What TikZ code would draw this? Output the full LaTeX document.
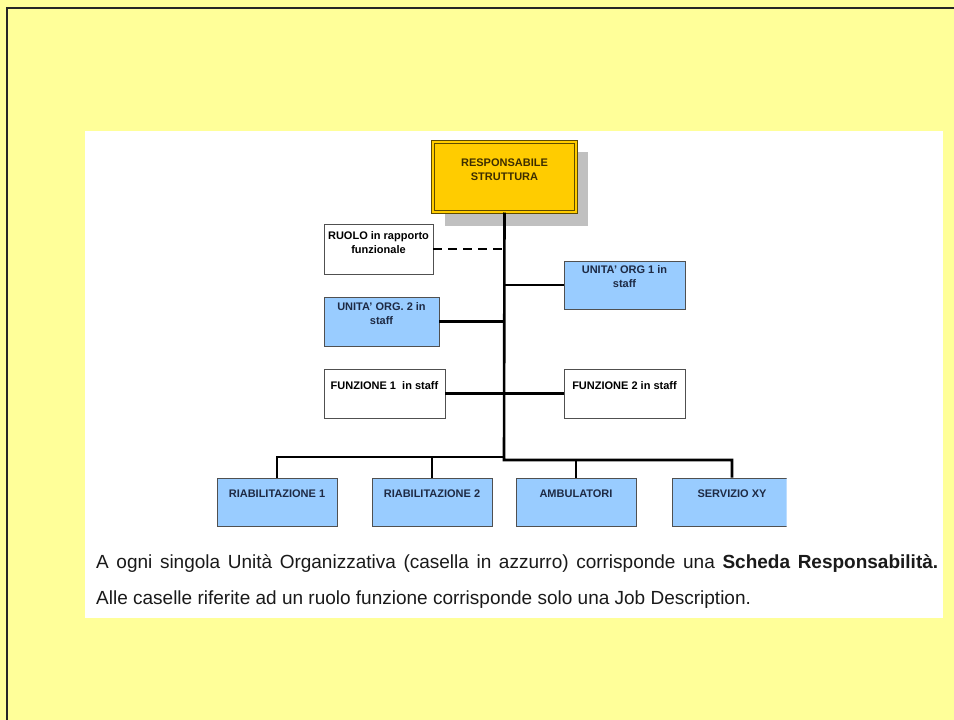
\documentclass[tikz,border=0pt]{standalone}
\usepackage{fontspec}
\setmainfont{Liberation Sans}
\usetikzlibrary{calc}
\definecolor{bgyellow}{HTML}{FFFF99}
\definecolor{ubblue}{HTML}{99CCFF}
\definecolor{gold}{HTML}{FFCC00}
\definecolor{goldline}{HTML}{5E4B00}
\definecolor{shadowgray}{HTML}{C0C0C0}
\definecolor{boxline}{HTML}{505050}
\definecolor{navytext}{HTML}{1E2A44}
\definecolor{titletext}{HTML}{3D2E00}
\definecolor{bodytext}{HTML}{1A1A1A}
\begin{document}
\begin{tikzpicture}[x=1pt,y=-1pt,
  box/.style={draw=boxline, line width=0.9pt, inner sep=0pt},
  bluebox/.style={box, fill=ubblue},
  whitebox/.style={box, fill=white},
  titlebox/.style={draw=goldline, line width=1pt, double=gold, double distance=2.4pt, fill=gold, inner sep=0pt},
  lbl/.style={font=\bfseries\fontsize{11}{14}\selectfont, align=center, inner sep=0pt},
  bluelbl/.style={lbl, text=navytext},
  whitelbl/.style={lbl, text=black},
  conn/.style={line width=2.6pt, black},
  bodyfont/.style={font=\fontsize{19}{22}\selectfont, text=bodytext, inner sep=0pt, anchor=base west}
]
\useasboundingbox (0,0) rectangle (954,720);
% background and frame
\fill[bgyellow] (0,0) rectangle (954,720);
\draw[line width=2.8pt, black!85] (7,721) -- (7,8) -- (955,8);
\fill[white] (85,131) rectangle (943,618);

% title box with shadow
\fill[shadowgray] (445,152) rectangle (588,226);
\node[titlebox, minimum width=143, minimum height=70] (resp) at (504.5,177) {};
\node[lbl, text=titletext] (resptxt) at (504.5,169.5) {RESPONSABILE\\STRUTTURA};

% staff boxes
\node[whitebox, minimum width=109, minimum height=50] (ruolo) at (378.5,249) {};
\node[whitelbl] (ruolotxt) at (378.5,242.5) {RUOLO in rapporto\\funzionale};

\node[bluebox, minimum width=121, minimum height=48] (uo1) at (624.5,285) {};
\node[bluelbl] (uo1txt) at (624.5,277) {UNITA' ORG 1 in\\staff};

\node[bluebox, minimum width=115, minimum height=49] (uo2) at (381.5,321.5) {};
\node[bluelbl] (uo2txt) at (381.5,314) {UNITA' ORG. 2 in\\staff};

\node[whitebox, minimum width=121, minimum height=49] (f1) at (384.5,393.5) {};
\node[whitelbl] (f1txt) at (384.5,386) {FUNZIONE 1\ \ in staff};

\node[whitebox, minimum width=121, minimum height=49] (f2) at (624.5,393.5) {};
\node[whitelbl] (f2txt) at (624.5,386) {FUNZIONE 2 in staff};

% bottom units
\node[bluebox, minimum width=120, minimum height=48] (r1) at (277,502) {};
\node[bluelbl] (r1txt) at (277,494) {RIABILITAZIONE 1};
\node[bluebox, minimum width=120, minimum height=48] (r2) at (432,502) {};
\node[bluelbl] (r2txt) at (432,494) {RIABILITAZIONE 2};
\node[bluebox, minimum width=120, minimum height=48] (amb) at (576,502) {};
\node[bluelbl] (ambtxt) at (576,494) {AMBULATORI};
\begin{scope}
  \clip (660,470) rectangle (786.5,540);
  \node[bluebox, minimum width=120, minimum height=48] (sxy) at (732,502) {};
\end{scope}
\node[bluelbl] (sxytxt) at (732,494) {SERVIZIO XY};

% connectors
\coordinate (busl) at (504,457);
\coordinate (busr) at (504,460);
\draw[conn] (resp.south) -- (busr) -| (sxy.north);
\draw[conn] (busl) -| (r1.north);
\draw[conn] (r2.north) -- (r2.north |- busl);
\draw[conn] (amb.north) -- (amb.north |- busr);
\draw[conn, dash pattern=on 9pt off 6pt] (ruolo.east) -- (ruolo.east -| resp.south);
\draw[conn] (uo1.west) -- (uo1.west -| resp.south);
\draw[conn] (uo2.east) -- (uo2.east -| resp.south);
\draw[conn] (f1.east) -- (f2.west);

% explanatory text
\node[bodyfont] (t1) at (96,568) {\makebox[842pt][s]{A ogni singola Unità Organizzativa (casella in azzurro) corrisponde una \textbf{Scheda Responsabilità.}}};
\node[bodyfont] (t2) at (96,604) {Alle caselle riferite ad un ruolo funzione corrisponde solo una Job Description.};
\end{tikzpicture}
\end{document}
